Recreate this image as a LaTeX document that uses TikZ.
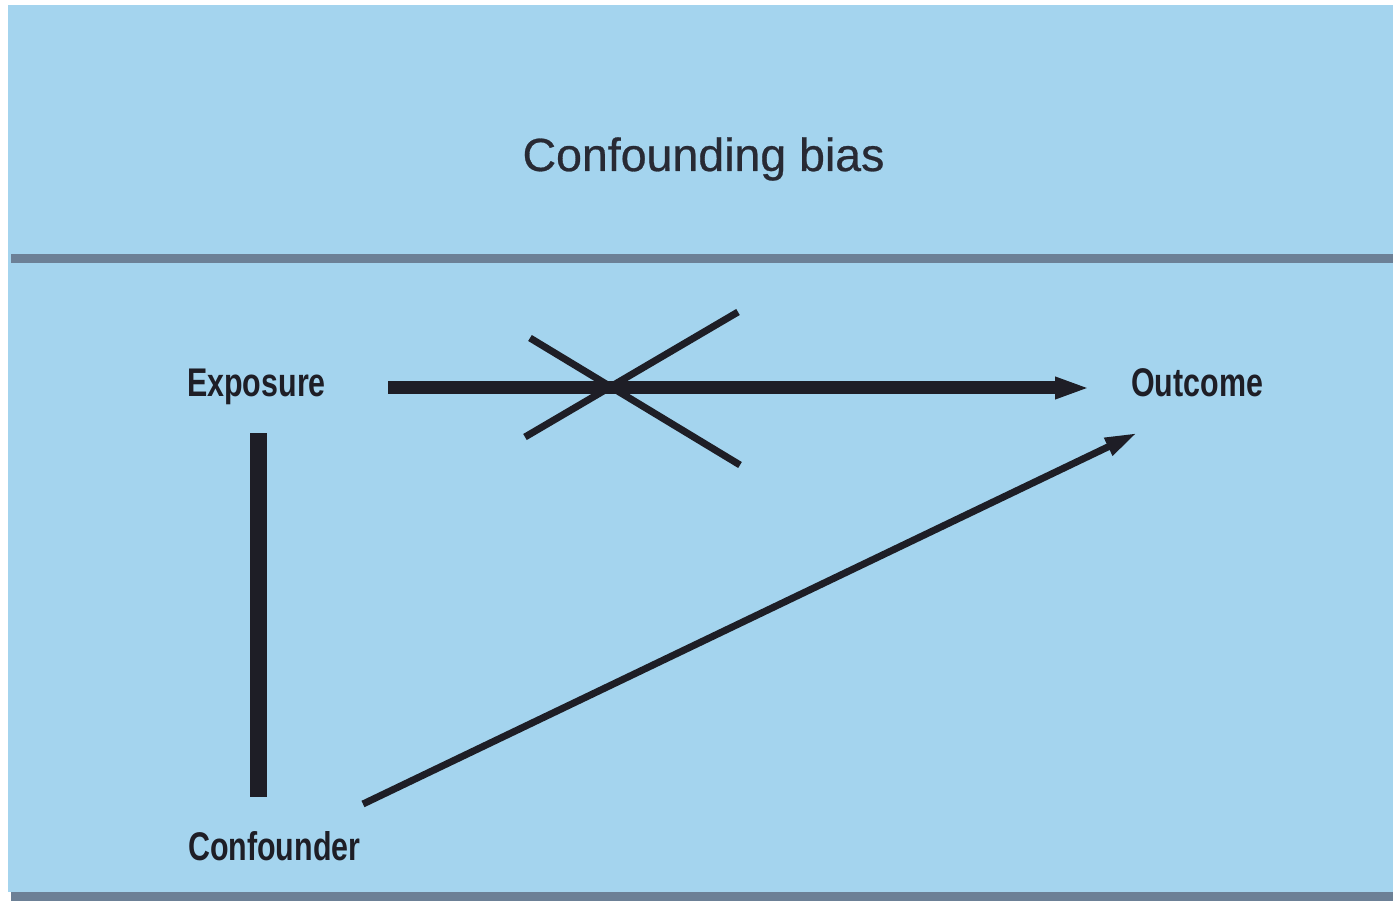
\documentclass[tikz,border=0pt]{standalone}
\usepackage{fontspec}
\setmainfont{Liberation Sans}
\newfontfamily\condfont[FakeStretch=0.76]{Liberation Sans}
\newfontfamily\titlefont[FakeBold=0.6]{Liberation Sans}
\usetikzlibrary{arrows.meta}
\definecolor{bgblue}{RGB}{164,212,238}
\definecolor{rulegrey}{RGB}{108,128,150}
\definecolor{ink}{RGB}{30,30,38}
\definecolor{titleink}{RGB}{40,42,52}
\tikzset{
  lbl/.style={anchor=base west, inner sep=0pt, text=ink, font=\condfont\bfseries\fontsize{40}{40}\selectfont},
  ttl/.style={anchor=base, inner sep=0pt, text=titleink, font=\titlefont\fontsize{46.5}{46.5}\selectfont},
  rulebar/.style={draw=rulegrey, line width=9pt},
  thickarrow/.style={draw=ink, line width=13pt, -{Triangle[length=35pt,width=20pt]}},
  thinarrow/.style={draw=ink, line width=7pt, -{Triangle[length=32pt,width=18pt]}},
  crossline/.style={draw=ink, line width=7pt},
  linkbar/.style={draw=ink, line width=17pt}
}
\begin{document}
\begin{tikzpicture}[x=1pt,y=-1pt]
\useasboundingbox (0,0) rectangle (1393,901);
\fill[white] (0,0) rectangle (1393,901);
\fill[bgblue] (8,5) rectangle (1393,892);
\draw[rulebar] (11,258.5) -- (1393,258.5);
\draw[rulebar] (11,896.5) -- (1393,896.5);

\node[ttl] (title) at (703.5,171) {Confounding bias};
\node[lbl] (exposure) at (187,397) {Exposure};
\node[lbl] (outcome) at (1131,397) {Outcome};
\node[lbl] (confounder) at (188,860) {Confounder};

\coordinate (hstart) at (388,388);
\coordinate (hend) at (1090,388);
\coordinate (dstart) at (363,804);
\coordinate (dend) at (1137,433);
\coordinate (vtop) at (258.5,433);
\coordinate (vbot) at (258.5,797);
\coordinate (xa1) at (530,338);
\coordinate (xa2) at (740,465);
\coordinate (xb1) at (525,437);
\coordinate (xb2) at (738,312);

\draw[thickarrow] (hstart) -- (hend);
\draw[crossline] (xa1) -- (xa2);
\draw[crossline] (xb1) -- (xb2);
\draw[linkbar] (vtop) -- (vbot);
\draw[thinarrow] (dstart) -- (dend);
\end{tikzpicture}
\end{document}
